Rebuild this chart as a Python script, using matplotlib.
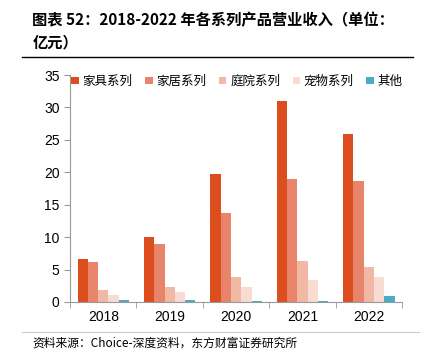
import numpy as np
import matplotlib.pyplot as plt
from matplotlib.lines import Line2D

plt.rcParams['font.family'] = ['Liberation Sans', 'Noto Sans CJK SC', 'DejaVu Sans']

# data (亿元)
years = ['2018', '2019', '2020', '2021', '2022']
series_names = ['家具系列', '家居系列', '庭院系列', '宠物系列', '其他']
furniture = [6.6, 10.0, 19.7, 31.0, 25.9]
home = [6.1, 9.0, 13.7, 18.9, 18.7]
garden = [1.9, 2.3, 3.9, 6.3, 5.4]
pet = [1.1, 1.6, 2.3, 3.4, 3.8]
other = [0.35, 0.35, 0.2, 0.2, 0.95]
colors = ['#DD4E1F', '#E8846A', '#F1B8A5', '#F8DBD1', '#4BACC6']

fig = plt.figure(figsize=(4.30, 3.59), dpi=100)
ax = fig.add_axes([0.163, 0.159, 0.772, 0.632])

x = np.arange(len(years))
w = 0.155
all_series = [furniture, home, garden, pet, other]
for i, (vals, name, c) in enumerate(zip(all_series, series_names, colors)):
    ax.bar(x + (i - 2) * w, vals, width=w, color=c, label=name)

ax.set_ylim(0, 35)
ax.set_yticks(range(0, 36, 5))
ax.set_xlim(-0.5, len(years) - 0.5)
ax.set_xticks(x)
ax.set_xticklabels(years)
ax.set_xticks(np.arange(-0.5, len(years), 1), minor=True)
ax.tick_params(axis='x', which='major', length=0, labelsize=10, pad=6)
ax.tick_params(axis='x', which='minor', length=4, color='#999999', direction='out')
ax.tick_params(axis='y', length=4, color='#999999', labelsize=10)
for s in ['top', 'right']:
    ax.spines[s].set_visible(False)
for s in ['left', 'bottom']:
    ax.spines[s].set_color('#999999')

ax.legend(loc='upper left', bbox_to_anchor=(-0.03, 1.05), ncol=5, frameon=False,
          handlelength=0.6, handleheight=0.6, handletextpad=0.3,
          columnspacing=1.0, prop={'family': 'Noto Sans CJK SC', 'size': 9})

# title
fig.text(0.075, 0.945, '图表 52：2018-2022 年各系列产品营业收入（单位：', fontsize=11,
         fontweight='bold', family=['Noto Sans CJK SC', 'DejaVu Sans'], va='center')
fig.text(0.075, 0.883, '亿元）', fontsize=11, fontweight='bold',
         family=['Noto Sans CJK SC', 'DejaVu Sans'], va='center')
fig.add_artist(Line2D([0.05, 0.96], [0.841, 0.841], color='black', lw=1))

# source
fig.add_artist(Line2D([0.05, 0.975], [0.075, 0.075], color='#CCCCCC', lw=0.8))
fig.text(0.075, 0.045, '资料来源：Choice-深度资料，东方财富证券研究所', fontsize=8.5,
         family=['Noto Sans CJK SC', 'DejaVu Sans'], va='center')

fig.savefig('out.png', dpi=100)
